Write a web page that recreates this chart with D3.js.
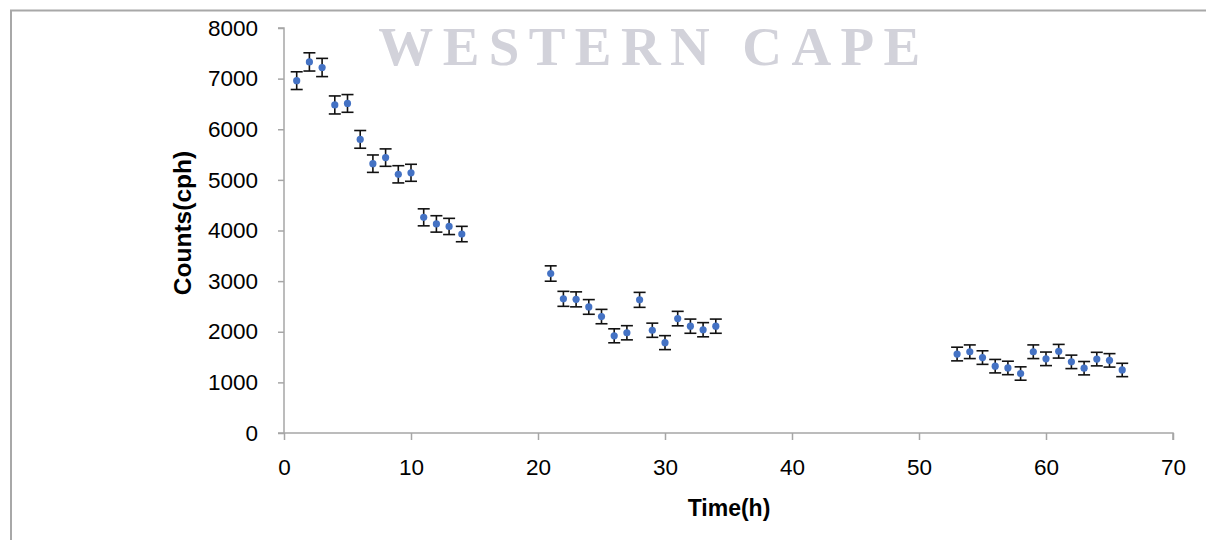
<!DOCTYPE html>
<html>
<head>
<meta charset="utf-8">
<script src="https://cdn.jsdelivr.net/npm/d3@7/dist/d3.min.js"></script>
<style>
  html, body { margin: 0; padding: 0; background: #fff; }
  svg { display: block; }
</style>
</head>
<body>
<svg id="chart" width="1206" height="540"></svg>
<script>
// Measured counts over time, with their uncertainties
const timeHours = [1, 2, 3, 4, 5, 6, 7, 8, 9, 10, 11, 12, 13, 14,
  21, 22, 23, 24, 25, 26, 27, 28, 29, 30, 31, 32, 33, 34,
  53, 54, 55, 56, 57, 58, 59, 60, 61, 62, 63, 64, 65, 66];
const counts = [6960, 7330, 7220, 6480, 6510, 5800, 5320, 5440, 5110, 5140, 4260, 4130, 4080, 3930,
  3150, 2650, 2640, 2490, 2300, 1920, 1980, 2630, 2030, 1785, 2260, 2110, 2040, 2110,
  1560, 1605, 1490, 1320, 1285, 1175, 1605, 1465, 1615, 1405, 1280, 1460, 1435, 1245];
const countErrors = [175, 180, 180, 178, 175, 175, 172, 172, 170, 168, 168, 162, 160, 152,
  152, 148, 148, 145, 142, 138, 140, 148, 140, 138, 143, 140, 140, 140,
  135, 135, 134, 133, 133, 132, 135, 134, 135, 133, 132, 134, 133, 132];
const xTicks = [0, 10, 20, 30, 40, 50, 60, 70];
const yTicks = [0, 1000, 2000, 3000, 4000, 5000, 6000, 7000, 8000];

const svg = d3.select("#chart");
const axisColor = "#a6a6a6";
const tickFont = "'Liberation Sans', Arial, sans-serif";

// Outer frame of the chart area (top and left edges)
svg.append("path")
  .attr("d", "M11,540 V10.5 H1206")
  .attr("fill", "none")
  .attr("stroke", "#a8a8a8")
  .attr("stroke-width", 2);

// Faint watermark behind the plot
svg.append("text")
  .attr("x", 654)
  .attr("y", 65)
  .attr("text-anchor", "middle")
  .attr("font-family", "'Liberation Serif', 'DejaVu Serif', serif")
  .attr("font-weight", "bold")
  .attr("font-size", 55)
  .attr("letter-spacing", 9.4)
  .attr("fill", "#d2d2da")
  .style("filter", "blur(0.7px)")
  .text("WESTERN CAPE");

const x = d3.scaleLinear().domain([0, 70]).range([284, 1173]);
const y = d3.scaleLinear().domain([0, 8000]).range([433, 28]);

// Y axis
const yAxis = svg.append("g")
  .attr("transform", `translate(${x(0)},0)`)
  .call(d3.axisLeft(y).tickValues(yTicks).tickFormat(d3.format("d")).tickSize(6).tickPadding(20));
yAxis.select(".domain").attr("stroke", axisColor).attr("stroke-width", 1.5)
  .attr("d", `M-6,${y(8000)}H0V${y(0)}`);
yAxis.selectAll(".tick line").attr("stroke", axisColor).attr("stroke-width", 1.5);
yAxis.selectAll(".tick text")
  .attr("fill", "#000")
  .attr("font-family", tickFont)
  .attr("font-size", 22.5);

// X axis
const xAxis = svg.append("g")
  .attr("transform", `translate(0,${y(0)})`)
  .call(d3.axisBottom(x).tickValues(xTicks).tickFormat(d3.format("d")).tickSize(7).tickPadding(19));
xAxis.select(".domain").attr("stroke", axisColor).attr("stroke-width", 1.5)
  .attr("d", `M${x(0) - 6},0H${x(70)}V7`);
xAxis.selectAll(".tick line").attr("stroke", axisColor).attr("stroke-width", 1.5);
xAxis.selectAll(".tick text")
  .attr("fill", "#000")
  .attr("font-family", tickFont)
  .attr("font-size", 22.5);

// Axis titles
svg.append("text")
  .attr("transform", "translate(191,223) rotate(-90)")
  .attr("text-anchor", "middle")
  .attr("font-family", tickFont)
  .attr("font-weight", "bold")
  .attr("font-size", 24.5)
  .attr("fill", "#000")
  .text("Counts(cph)");

svg.append("text")
  .attr("x", 729)
  .attr("y", 516)
  .attr("text-anchor", "middle")
  .attr("font-family", tickFont)
  .attr("font-weight", "bold")
  .attr("font-size", 23)
  .attr("fill", "#000")
  .text("Time(h)");

// Data with error bars
const data = timeHours.map((t, i) => ({ t, c: counts[i], e: countErrors[i] }));
const capHalf = 6;
const bars = svg.append("g").attr("stroke", "#111").attr("stroke-width", 1.6);
bars.selectAll("line.stem").data(data).join("line")
  .attr("class", "stem")
  .attr("x1", d => x(d.t)).attr("x2", d => x(d.t))
  .attr("y1", d => y(d.c + d.e)).attr("y2", d => y(d.c - d.e));
bars.selectAll("line.capTop").data(data).join("line")
  .attr("class", "capTop")
  .attr("x1", d => x(d.t) - capHalf).attr("x2", d => x(d.t) + capHalf)
  .attr("y1", d => y(d.c + d.e)).attr("y2", d => y(d.c + d.e));
bars.selectAll("line.capBot").data(data).join("line")
  .attr("class", "capBot")
  .attr("x1", d => x(d.t) - capHalf).attr("x2", d => x(d.t) + capHalf)
  .attr("y1", d => y(d.c - d.e)).attr("y2", d => y(d.c - d.e));

svg.append("g").selectAll("circle").data(data).join("circle")
  .attr("cx", d => x(d.t))
  .attr("cy", d => y(d.c))
  .attr("r", 3.6)
  .attr("fill", "#4472c4");
</script>
</body>
</html>
